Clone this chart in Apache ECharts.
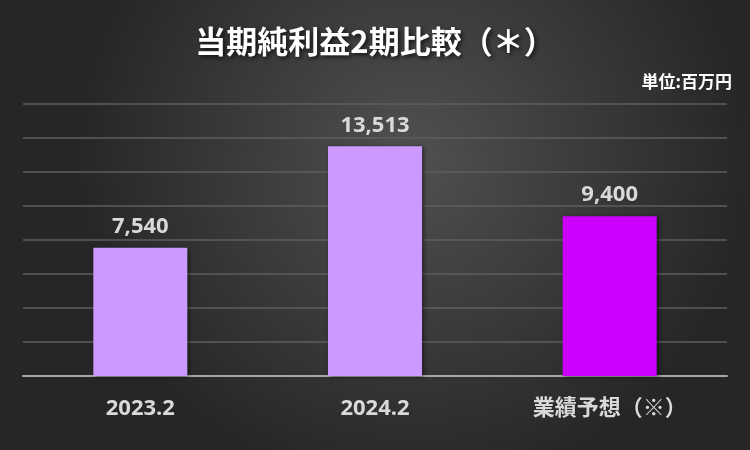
<!DOCTYPE html>
<html><head><meta charset="utf-8">
<script src="https://cdn.jsdelivr.net/npm/echarts@6/dist/echarts.min.js"></script>
<style>html,body{margin:0;padding:0;}#c{width:750px;height:450px;}</style>
</head><body><div id="c"></div>
<script>
const categories = ['2023.2', '2024.2', '業績予想（※）'];
const values = [7540, 13513, 9400];
const barColors = ['#CC99FF', '#CC99FF', '#CC00FF'];
const titleText = '当期純利益2期比較（＊）';
const unitText = '単位:百万円';
const yMin = 0, yMax = 16000, yInterval = 2000;

const chart = echarts.init(document.getElementById('c'));
const cjk = '"Noto Sans CJK JP", "Noto Sans", sans-serif';
const font = '"Open Sans", "Noto Sans CJK JP", sans-serif';
chart.setOption({
  backgroundColor: {
    type: 'radial', x: 0.55, y: 0.35, r: 0.75,
    colorStops: [{offset: 0, color: '#505050'}, {offset: 1, color: '#262626'}]
  },
  animation: false,
  title: [{
    text: titleText, left: 'center', top: 21,
    textStyle: {color: '#FFFFFF', fontSize: 31, fontWeight: 'bold', fontFamily: cjk,
      textShadowColor: 'rgba(0,0,0,0.7)', textShadowBlur: 4, textShadowOffsetX: 2, textShadowOffsetY: 2}
  }, {
    text: unitText, right: 13, top: 68,
    textStyle: {color: '#FFFFFF', fontSize: 17, fontWeight: 'bold', fontFamily: cjk}
  }],
  grid: {left: 23, right: 23, top: 104, bottom: 74},
  xAxis: {
    type: 'category', data: categories,
    axisLine: {lineStyle: {color: '#A6A6A6', width: 2}},
    axisTick: {show: false},
    axisLabel: {color: '#D9D9D9', fontSize: 22, fontWeight: 'bold', fontFamily: font, margin: 22}
  },
  yAxis: {
    type: 'value', min: yMin, max: yMax, interval: yInterval,
    axisLabel: {show: false}, axisLine: {show: false}, axisTick: {show: false},
    splitLine: {lineStyle: {color: '#5E5E5E', width: 1.5}}
  },
  series: [{
    type: 'bar', barWidth: 94,
    data: values.map((v, i) => ({value: v, itemStyle: {color: barColors[i]}})),
    itemStyle: {shadowColor: 'rgba(0,0,0,0.45)', shadowBlur: 4, shadowOffsetX: 2, shadowOffsetY: 1},
    label: {show: true, position: 'top', distance: 10, color: '#D9D9D9', fontSize: 22, fontWeight: 'bold', fontFamily: font,
      formatter: p => p.value.toLocaleString('en-US')}
  }]
});
</script></body></html>
